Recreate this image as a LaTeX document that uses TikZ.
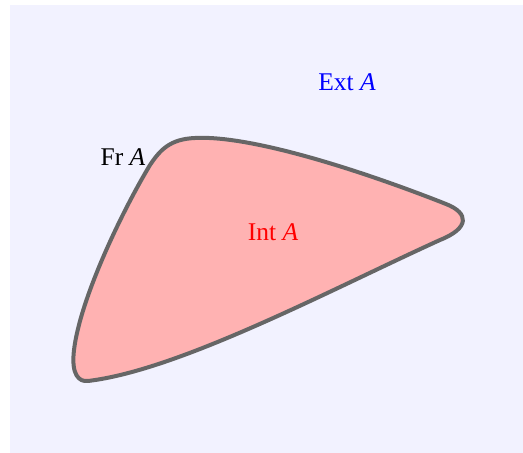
\documentclass[tikz,border=0pt]{standalone}
\usepackage{fontspec}
\setmainfont{Liberation Serif}
\begin{document}
\begin{tikzpicture}[x=0.4pt,y=-0.4pt,
  region/.style={fill=red!30,draw=black!60,line width=1.6pt,line join=round},
  lbl/.style={inner sep=0pt,font=\fontsize{10.2}{12}\selectfont}]
\useasboundingbox (0,0) rectangle (523,453);
\fill[blue!5] (10,5) rectangle (523,453);
\path[region] (88,381) .. controls (180,370) and (330,290) .. (440,240)
  .. controls (470,228) and (469,213) .. (446,204)
  .. controls (360,170) and (250,135) .. (195,138)
  .. controls (170,139) and (160,150) .. (150,165)
  .. controls (120,215) and (80,300) .. (74,350)
  .. controls (71,375) and (79,382) .. (88,381) -- cycle;
\node[lbl] (fr) at (123,157) {Fr \textit{A}};
\node[lbl,text=blue] (ext) at (347,82) {Ext \textit{A}};
\node[lbl,text=red] (int) at (273,232) {Int \textit{A}};
\end{tikzpicture}
\end{document}
